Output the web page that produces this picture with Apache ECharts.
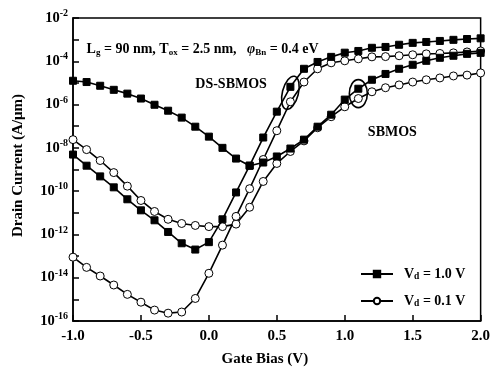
<!DOCTYPE html>
<html>
<head>
<meta charset="utf-8">
<script src="https://cdn.jsdelivr.net/npm/echarts@6.0.0/dist/echarts.min.js"></script>
<style>
  html, body { margin: 0; padding: 0; background: #fff; }
  #chart { width: 493px; height: 372px; }
</style>
</head>
<body>
<div id="chart"></div>
<script>
// gate bias, V
var gateBias = [-1.0, -0.9, -0.8, -0.7, -0.6, -0.5, -0.4, -0.3, -0.2, -0.1, 0.0,
  0.1, 0.2, 0.3, 0.4, 0.5, 0.6, 0.7, 0.8, 0.9, 1.0,
  1.1, 1.2, 1.3, 1.4, 1.5, 1.6, 1.7, 1.8, 1.9, 2.0];

// drain current, A/um
var dsVd10 = [4.9e-9, 1.5e-9, 4.8e-10, 1.5e-10, 4.2e-11, 1.3e-11, 4.5e-12, 1.3e-12, 3.9e-13, 2.0e-13, 4.4e-13,
  5.0e-12, 8.7e-11, 1.5e-9, 3.0e-8, 4.7e-7, 6.6e-6, 4.5e-5, 9.3e-5, 1.6e-4, 2.5e-4,
  3.0e-4, 4.2e-4, 4.6e-4, 5.8e-4, 7.1e-4, 7.8e-4, 8.7e-4, 9.8e-4, 1.07e-3, 1.15e-3];
var dsVd01 = [8.9e-14, 3.0e-14, 1.2e-14, 4.6e-15, 1.7e-15, 7.4e-16, 3.2e-16, 2.3e-16, 2.6e-16, 1.1e-15, 1.6e-14,
  3.2e-13, 6.8e-12, 1.3e-10, 2.9e-9, 6.2e-8, 1.35e-6, 1.1e-5, 4.5e-5, 8.5e-5, 1.05e-4,
  1.3e-4, 1.6e-4, 1.65e-4, 1.8e-4, 2.0e-4, 2.2e-4, 2.3e-4, 2.45e-4, 2.7e-4, 3.0e-4];
var sbVd10 = [1.26e-5, 1.1e-5, 7.4e-6, 4.8e-6, 3.2e-6, 1.9e-6, 9.8e-7, 5.2e-7, 2.5e-7, 9.5e-8, 3.3e-8,
  1.0e-8, 3.2e-9, 1.5e-9, 2.1e-9, 4.0e-9, 9.3e-9, 2.4e-8, 9.5e-8, 3.4e-7, 1.7e-6,
  5.4e-6, 1.4e-5, 2.6e-5, 4.5e-5, 6.9e-5, 1.05e-4, 1.45e-4, 1.8e-4, 2.2e-4, 2.45e-4];
var sbVd01 = [2.4e-8, 8.3e-9, 2.6e-9, 7.2e-10, 1.7e-10, 3.7e-11, 1.15e-11, 5.0e-12, 3.2e-12, 2.6e-12, 2.3e-12,
  2.3e-12, 3.0e-12, 1.8e-11, 2.8e-10, 1.9e-9, 6.8e-9, 2.1e-8, 8.5e-8, 2.75e-7, 7.9e-7,
  1.9e-6, 3.9e-6, 6.0e-6, 8.1e-6, 1.1e-5, 1.4e-5, 1.7e-5, 2.1e-5, 2.3e-5, 2.9e-5];

var legendNames = ['Vd = 1.0 V', 'Vd = 0.1 V'];

var FONT = '"Liberation Serif", "DejaVu Serif", serif';

function pairs(ys) {
  return gateBias.map(function (x, i) { return [x, ys[i]]; });
}

function lineSeries(name, ys, filled) {
  return {
    name: name,
    type: 'line',
    data: pairs(ys),
    symbol: filled ? 'rect' : 'circle',
    symbolSize: filled ? 7 : 8,
    itemStyle: {
      color: filled ? '#000' : '#fff',
      borderColor: '#000',
      borderWidth: 1
    },
    lineStyle: { color: '#000', width: 1.6 },
    emphasis: { disabled: true },
    z: filled ? 3 : 2
  };
}

var chart = echarts.init(document.getElementById('chart'), null, { renderer: 'canvas' });

var option = {
  animation: false,
  backgroundColor: '#fff',
  grid: {
    left: 73, right: 8, top: 18, bottom: 50,
    show: true, borderColor: '#000', borderWidth: 1.5, backgroundColor: 'transparent'
  },
  xAxis: {
    type: 'value',
    min: -1, max: 2, interval: 0.5,
    name: 'Gate Bias (V)',
    nameLocation: 'middle',
    nameGap: 31,
    nameTextStyle: { fontFamily: FONT, fontWeight: 'bold', fontSize: 15, color: '#000', padding: [0, 24, 0, 0] },
    axisLine: { onZero: false, lineStyle: { color: '#000', width: 1.5 } },
    axisTick: { inside: true, length: 6, lineStyle: { color: '#000', width: 1.5 } },
    splitLine: { show: false },
    axisLabel: {
      fontFamily: FONT, fontWeight: 'bold', fontSize: 15, color: '#000', margin: 8,
      formatter: function (v) { return v.toFixed(1); }
    }
  },
  yAxis: {
    type: 'log',
    logBase: 10,
    min: 1e-16, max: 1e-2,
    interval: 1,
    name: 'Drain Current (A/\u03bcm)',
    nameLocation: 'middle',
    nameGap: 47,
    nameTextStyle: { fontFamily: FONT, fontWeight: 'bold', fontSize: 15, color: '#000', padding: [0, 0, 0, 8] },
    axisLine: { onZero: false, lineStyle: { color: '#000', width: 1.5 } },
    axisTick: { inside: true, length: 6, lineStyle: { color: '#000', width: 1.5 } },
    splitLine: { show: false },
    axisLabel: {
      margin: 5,
      showMinLabel: true, showMaxLabel: true,
      formatter: function (v) {
        var e = Math.round(Math.log10(v));
        if (e % 2 !== 0) return '';
        return '{b|10}{s|' + e + '}';
      },
      rich: {
        b: { fontFamily: FONT, fontWeight: 'bold', fontSize: 14.5, color: '#000' },
        s: { fontFamily: FONT, fontWeight: 'bold', fontSize: 10, color: '#000', padding: [0, 0, 9, 0] }
      }
    }
  },
  legend: {
    data: legendNames,
    orient: 'vertical',
    left: 355, top: 262,
    itemWidth: 32, itemHeight: 8, itemGap: 12,
    formatter: function (n) {
      return n === legendNames[0] ? '{b|V}{d|d}{b| = 1.0 V}' : '{b|V}{d|d}{b| = 0.1 V}';
    },
    textStyle: {
      padding: [0, 0, 0, 6],
      rich: {
        b: { fontFamily: FONT, fontWeight: 'bold', fontSize: 14, color: '#000' },
        d: { fontFamily: FONT, fontWeight: 'bold', fontSize: 9.5, color: '#000', padding: [6, 0, 0, 0] }
      }
    }
  },
  series: [
    lineSeries(legendNames[1], sbVd01, false),
    lineSeries(legendNames[1], dsVd01, false),
    lineSeries(legendNames[0], sbVd10, true),
    lineSeries(legendNames[0], dsVd10, true)
  ]
};

chart.setOption(option);

// annotations placed through the chart's own coordinate system
var dsC = chart.convertToPixel({ gridIndex: 0 }, [0.6, 3.5e-6]);
var sbC = chart.convertToPixel({ gridIndex: 0 }, [1.1, 3.2e-6]);
var noteP = chart.convertToPixel({ gridIndex: 0 }, [-0.9, 3.6e-4]);
var dsLab = chart.convertToPixel({ gridIndex: 0 }, [-0.1, 9e-6]);
var sbLab = chart.convertToPixel({ gridIndex: 0 }, [1.17, 5e-8]);

chart.setOption({
  graphic: [
    {
      type: 'ellipse', shape: { cx: 0, cy: 0, rx: 8, ry: 17 },
      x: dsC[0], y: dsC[1], rotation: -0.25,
      style: { fill: 'none', stroke: '#000', lineWidth: 1.6 }, z: 10
    },
    {
      type: 'ellipse', shape: { cx: 0, cy: 0, rx: 9, ry: 14 },
      x: sbC[0], y: sbC[1],
      style: { fill: 'none', stroke: '#000', lineWidth: 1.6 }, z: 10
    },
    {
      type: 'text', x: noteP[0], y: noteP[1],
      style: {
        text: '{b|L}{d|g}{b| = 90 nm, T}{d|ox}{b| = 2.5 nm,   }{i|\u03c6}{d|Bn}{b| = 0.4 eV}',
        rich: {
          b: { fontFamily: FONT, fontWeight: 'bold', fontSize: 14, fill: '#000' },
          d: { fontFamily: FONT, fontWeight: 'bold', fontSize: 9, fill: '#000', padding: [6, 0, 0, 0] },
          i: { fontFamily: FONT, fontStyle: 'italic', fontWeight: 'bold', fontSize: 14, fill: '#000' }
        },
        verticalAlign: 'middle'
      }, z: 10
    },
    {
      type: 'text', x: dsLab[0], y: dsLab[1],
      style: { text: 'DS-SBMOS', fontFamily: FONT, fontWeight: 'bold', fontSize: 14, fill: '#000', verticalAlign: 'middle' },
      z: 10
    },
    {
      type: 'text', x: sbLab[0], y: sbLab[1],
      style: { text: 'SBMOS', fontFamily: FONT, fontWeight: 'bold', fontSize: 14, fill: '#000', verticalAlign: 'middle' },
      z: 10
    }
  ]
});
</script>
</body>
</html>
